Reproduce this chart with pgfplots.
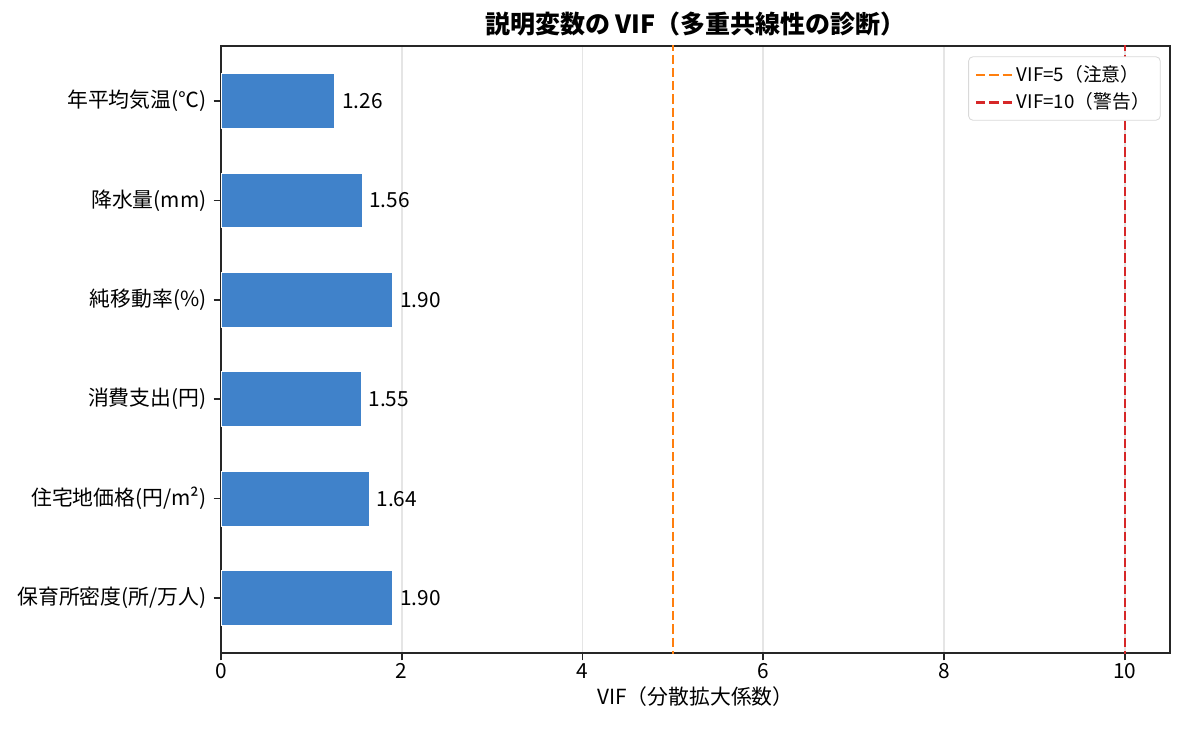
\documentclass[border=0pt]{standalone}
\usepackage{fontspec}
\setmainfont{Noto Sans CJK JP}
\usepackage{pgfplots}
\pgfplotsset{compat=1.18}

\definecolor{barblue}{RGB}{64,130,202}
\definecolor{mplorange}{RGB}{255,127,14}
\definecolor{mplred}{RGB}{214,39,40}
\definecolor{spine}{RGB}{38,38,38}

\begin{document}
\begin{tikzpicture}
\begin{axis}[
  scale only axis,
  width=455.52pt, height=291.36pt,
  xmin=0, xmax=10.5,
  ymin=-0.5525, ymax=5.5525,
  y dir=reverse,
  xtick={0,2,4,6,8,10},
  ytick={0,1,2,3,4,5},
  yticklabels={年平均気温(℃), 降水量(mm), 純移動率(\%), 消費支出(円), 住宅地価格(円/m²), 保育所密度(所/万人)},
  tick align=outside, tick pos=left,
  major tick length=3.5pt,
  tick style={spine, line width=0.8pt},
  axis line style={spine, line width=0.8pt},
  xmajorgrids, ymajorgrids=false,
  grid style={color=black!10, line width=0.8pt},
  ticklabel style={font=\fontsize{10}{12}\selectfont},
  xticklabel style={yshift=2pt},
  /pgf/number format/assume math mode=true,
  xlabel={VIF（分散拡大係数）},
  xlabel style={font=\fontsize{10}{12}\selectfont, yshift=3pt},
  title={\bfseries 説明変数の VIF（多重共線性の診断）},
  title style={font=\fontsize{12}{14}\selectfont, yshift=-5pt},
  legend image code/.code={\draw[#1] (0pt,0pt) -- (17pt,0pt);},
  legend style={at={(1,1)}, xshift=-4.5pt, yshift=-5pt, anchor=north east,
    draw=black!15, rounded corners=2pt, font=\fontsize{9}{11}\selectfont,
    row sep=0pt, inner xsep=3pt, inner ysep=2pt},
  legend cell align=left,
]
\addplot[xbar, bar width=0.55, fill=barblue, draw=white, line width=0.4pt, forget plot,
  nodes near coords,
  nodes near coords style={font=\fontsize{10}{12}\selectfont, /pgf/number format/.cd, fixed, zerofill, precision=2, assume math mode=true}]
  coordinates {
  (1.26,0) (1.56,1) (1.90,2) (1.55,3) (1.64,4) (1.90,5)
};
\addplot[mplorange, line width=1.2pt, dash pattern=on 4.44pt off 1.92pt]
  coordinates {(5,-1) (5,7)};
\addlegendentry{VIF=5（注意）}
\addplot[mplred, line width=1.2pt, dash pattern=on 4.44pt off 1.92pt]
  coordinates {(10,-1) (10,7)};
\addlegendentry{VIF=10（警告）}
\end{axis}
\pgfresetboundingbox
\path[use as bounding box] (-106.08pt,-39.36pt) rectangle (462.72pt,313.44pt);
\end{tikzpicture}
\end{document}
